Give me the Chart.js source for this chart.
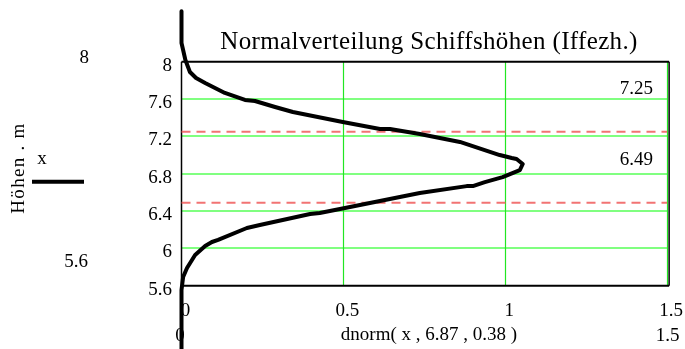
<!DOCTYPE html>
<html><head><meta charset="utf-8">
<script src="https://cdn.jsdelivr.net/npm/chart.js@4"></script>
<style>html,body{margin:0;padding:0;background:#fff}canvas{display:block}</style>
</head><body>
<canvas id="c" width="685" height="349"></canvas>
<script>
// ---- data ----
const heights = [8.54, 8.20, 8.125, 8.018, 7.89, 7.825, 7.772, 7.665, 7.59, 7.579, 7.515, 7.461, 7.354, 7.279, 7.279, 7.225, 7.14, 7.0, 6.968, 6.957, 6.904, 6.839, 6.764, 6.71, 6.667, 6.667, 6.593, 6.432, 6.379, 6.368, 6.25, 6.218, 6.09, 6.068, 6.025, 5.929, 5.79, 5.693, 5.554, 4.9];
const densities = [0, 0, 0.005, 0.012, 0.026, 0.045, 0.073, 0.134, 0.196, 0.227, 0.289, 0.344, 0.498, 0.613, 0.644, 0.736, 0.860, 0.983, 1.02, 1.035, 1.054, 1.045, 0.992, 0.937, 0.9, 0.881, 0.736, 0.505, 0.427, 0.397, 0.242, 0.202, 0.113, 0.094, 0.073, 0.042, 0.017, 0.005, 0, 0];
const yTicks = [5.6, 6, 6.4, 6.8, 7.2, 7.6, 8];
const xTicks = [0, 0.5, 1, 1.5];
const markerValues = [7.25, 6.49];
const markerLabels = ['7.25', '6.49'];
const titleText = 'Normalverteilung Schiffshöhen (Iffezh.)';
const xAxisTitle = 'dnorm( x , 6.87 , 0.38 )';
const yAxisTitle = 'Höhen . m';
const yLimitLabels = ['8', '5.6'];
const xLimitLabels = ['0', '1.5'];
const seriesName = 'x';

const FONT = "'Liberation Serif', 'Times New Roman', serif";
const curve = heights.map((h, i) => ({x: densities[i], y: h}));
const markerSets = markerValues.map(v => ({
  data: [{x: xTicks[0], y: v}, {x: xTicks[xTicks.length - 1], y: v}],
  borderColor: 'rgba(240,90,90,0.85)', borderWidth: 2, borderDash: [9, 6],
  pointRadius: 0, fill: false, clip: false
}));

const extras = {
  id: 'extras',
  beforeDatasetsDraw(chart) {
    const {ctx, chartArea: a, scales} = chart;
    ctx.save();
    // vertical green grid lines
    ctx.strokeStyle = '#22e622';
    ctx.lineWidth = 1.2;
    ctx.beginPath();
    xTicks.slice(1).forEach(v => {
      const px = Math.round(scales.x.getPixelForValue(v)) + 0.5;
      ctx.moveTo(px, a.top); ctx.lineTo(px, a.bottom);
    });
    ctx.stroke();
    ctx.strokeStyle = '#000';
    ctx.lineWidth = 2;
    ctx.beginPath();
    ctx.moveTo(a.left, a.top); ctx.lineTo(a.right + 2, a.top);
    ctx.moveTo(a.left, a.bottom); ctx.lineTo(a.right + 2, a.bottom);
    ctx.stroke();
    ctx.lineWidth = 1.5;
    ctx.beginPath();
    ctx.moveTo(a.left, a.top); ctx.lineTo(a.left, a.bottom);
    ctx.moveTo(a.right + 2, a.top); ctx.lineTo(a.right + 2, a.bottom);
    ctx.stroke();
    ctx.restore();
  },
  afterDraw(chart) {
    const {ctx, scales} = chart;
    const ys = scales.y;
    ctx.save();
    ctx.fillStyle = '#000';
    ctx.textBaseline = 'middle';
    // title
    ctx.font = '25px ' + FONT;
    ctx.textAlign = 'center';
    ctx.letterSpacing = '0.35px';
    ctx.fillText(titleText, 429, 42);
    ctx.letterSpacing = '0px';
    ctx.font = '19px ' + FONT;
    // left limits
    ctx.textAlign = 'right';
    ctx.fillText(yLimitLabels[0], 89, 58.5);
    ctx.fillText(yLimitLabels[1], 88, 262);
    // series name + legend line
    ctx.textAlign = 'center';
    ctx.fillText(seriesName, 42, 159);
    ctx.strokeStyle = '#000';
    ctx.lineWidth = 4;
    ctx.beginPath(); ctx.moveTo(32, 181.7); ctx.lineTo(84, 181.7); ctx.stroke();
    // rotated y title
    ctx.save();
    ctx.translate(19, 168);
    ctx.rotate(-Math.PI / 2);
    ctx.letterSpacing = '1.3px';
    ctx.fillText(yAxisTitle, 0, 0);
    ctx.restore();
    ctx.letterSpacing = '0px';
    // bottom row
    ctx.fillText(xLimitLabels[0], 180, 336);
    ctx.fillText(xLimitLabels[1], 667.5, 336);
    ctx.fillText(xAxisTitle, 429, 335);
    // marker labels
    ctx.textAlign = 'right';
    markerValues.forEach((v, i) => {
      ctx.fillText(markerLabels[i], 653, ys.getPixelForValue(v) - 43);
    });
    ctx.restore();
  }
};

new Chart(document.getElementById('c'), {
  type: 'line',
  data: {
    datasets: [
      {data: curve, borderColor: '#000', borderWidth: 4, pointRadius: 0, fill: false,
       tension: 0, clip: false, borderJoinStyle: 'round', borderCapStyle: 'round'},
      ...markerSets
    ]
  },
  options: {
    responsive: false,
    animation: false,
    events: [],
    layout: {padding: {left: 0, top: 61.7, right: 17.5, bottom: 0}},
    plugins: {legend: {display: false}, tooltip: {enabled: false}, title: {display: false}},
    scales: {
      x: {
        type: 'linear', min: 0, max: 1.5,
        afterBuildTicks: s => { s.ticks = xTicks.map(v => ({value: v})); },
        afterFit: s => { s.height = 349 - 285.7; },
        ticks: {font: {family: FONT, size: 19}, color: '#000', padding: 6, labelOffset: 4,
                maxRotation: 0, autoSkip: false, callback: v => String(v)},
        grid: {display: false},
        border: {display: false}
      },
      y: {
        type: 'linear', min: 5.6, max: 8,
        afterBuildTicks: s => { s.ticks = yTicks.map(v => ({value: v})); },
        afterFit: s => { s.width = 181.5; },
        ticks: {font: {family: FONT, size: 19}, color: '#000', padding: 9.5, labelOffset: 4,
                autoSkip: false, callback: v => String(v)},
        grid: {drawTicks: false, lineWidth: 2,
               color: c => (c.tick && c.tick.value > 5.61 && c.tick.value < 7.99) ? '#80ff80' : 'rgba(0,0,0,0)'},
        border: {display: false}
      }
    }
  },
  plugins: [extras]
});
</script>
</body></html>
